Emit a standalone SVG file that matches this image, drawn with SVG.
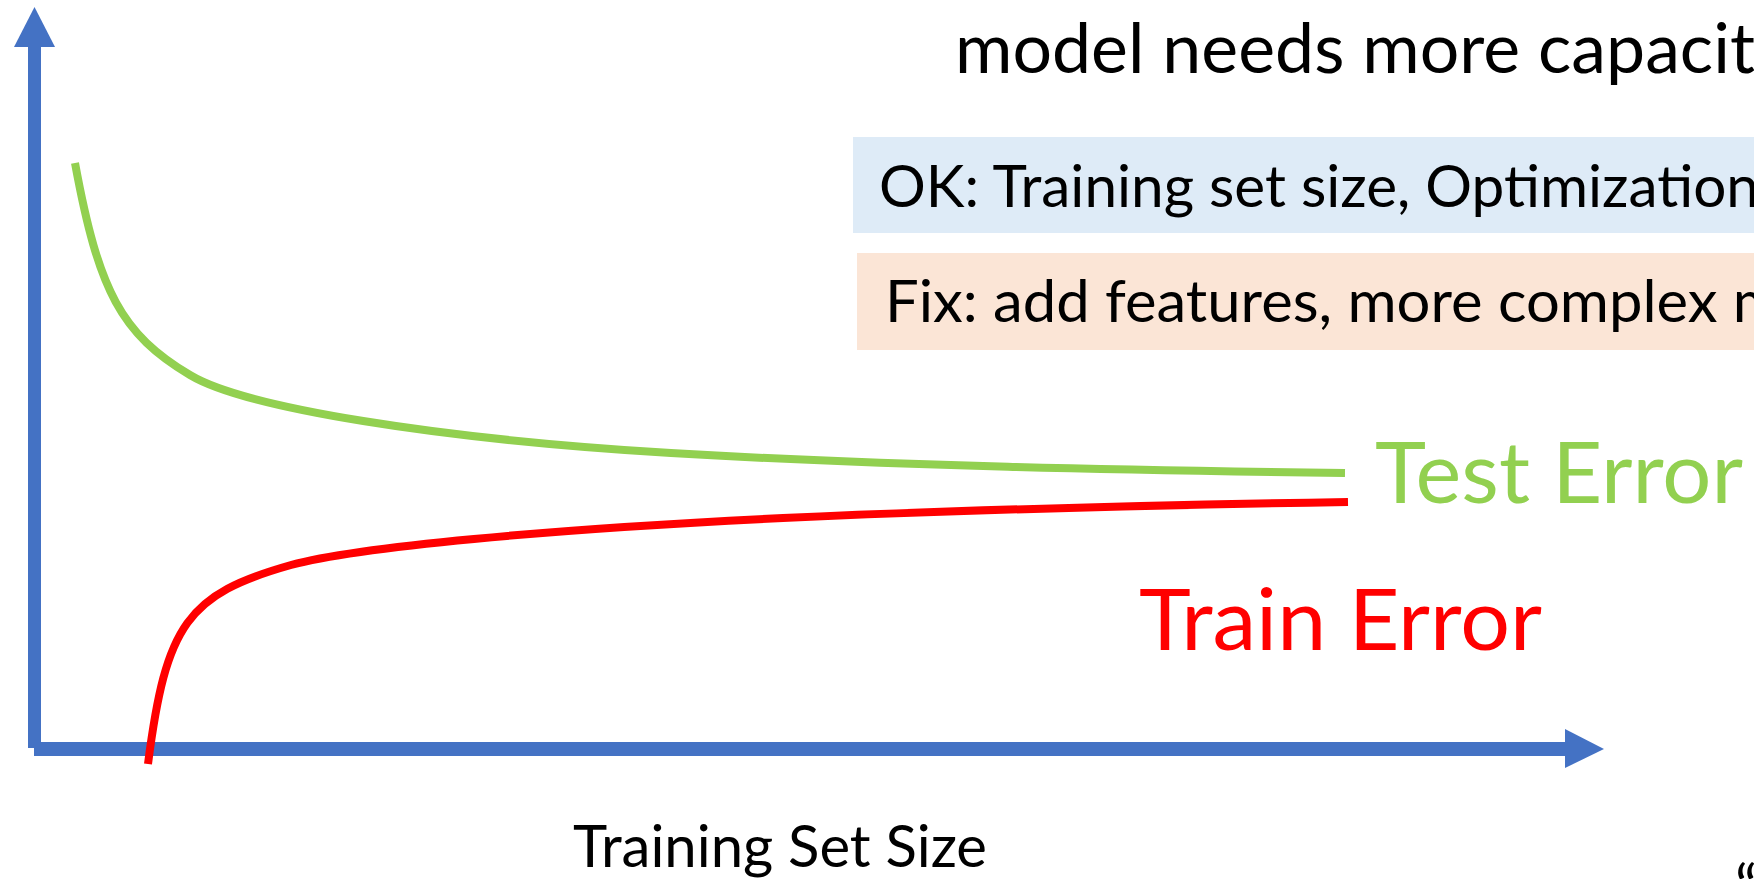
<svg xmlns="http://www.w3.org/2000/svg" width="1754" height="879" viewBox="0 0 1754 879">
  <style>
    .t { font-family: Lato, "Open Sans", "Liberation Sans", sans-serif; }
    .axis { fill: #4472C4; }
    .curve { fill: none; stroke-width: 8; stroke-linecap: butt; stroke-linejoin: round; }
  </style>
  <rect width="1754" height="879" fill="#FFFFFF"/>

  <g id="title">
    <text class="t" x="955" y="73" font-size="70" fill="#000000" textLength="800" lengthAdjust="spacingAndGlyphs">model needs more capacit</text>
  </g>

  <g id="ok-box">
    <rect x="853" y="137" width="910" height="96" fill="#DEEBF7"/>
    <text class="t" x="879" y="207" font-size="59" fill="#000000" textLength="880" lengthAdjust="spacingAndGlyphs">OK: Training set size, Optimization</text>
  </g>

  <g id="fix-box">
    <rect x="857" y="253" width="906" height="97" fill="#FBE5D6"/>
    <text class="t" x="885" y="322" font-size="59" fill="#000000" textLength="897" lengthAdjust="spacingAndGlyphs">Fix: add features, more complex m</text>
  </g>

  <g id="y-axis">
    <rect class="axis" x="28" y="46" width="13" height="702"/>
    <polygon class="axis" points="34.5,7 14,47 55,47"/>
  </g>

  <g id="x-axis">
    <rect class="axis" x="34" y="742" width="1532" height="14"/>
    <polygon class="axis" points="1565,729 1604,749 1565,768"/>
    <text class="t" x="573" y="867" font-size="58" fill="#000000" textLength="414" lengthAdjust="spacingAndGlyphs">Training Set Size</text>
  </g>

  <g id="connectors">
    <path id="test-curve" class="curve" stroke="#92D050" d="M75,163 C98.7,292 121.7,334.2 190,375 C244.6,407.8 437,439 671,453 C891,466 1125,470 1345,473"/>
    <path id="train-curve" class="curve" stroke="#FF0000" d="M148,764 C165.9,624.1 187.4,594.2 291,565 C354.6,547.2 551.4,528.9 783,518 C973,509.5 1158,505 1348,502"/>
  </g>

  <g id="test-label">
    <text class="t" x="1375" y="503" font-size="86" fill="#92D050" textLength="368" lengthAdjust="spacingAndGlyphs">Test Error</text>
  </g>

  <g id="train-label">
    <text class="t" x="1139" y="650" font-size="86" fill="#FF0000" textLength="403" lengthAdjust="spacingAndGlyphs">Train Error</text>
  </g>

  <g id="quote">
    <text class="t" x="1735" y="908" font-size="60" fill="#000000">“</text>
  </g>
</svg>
